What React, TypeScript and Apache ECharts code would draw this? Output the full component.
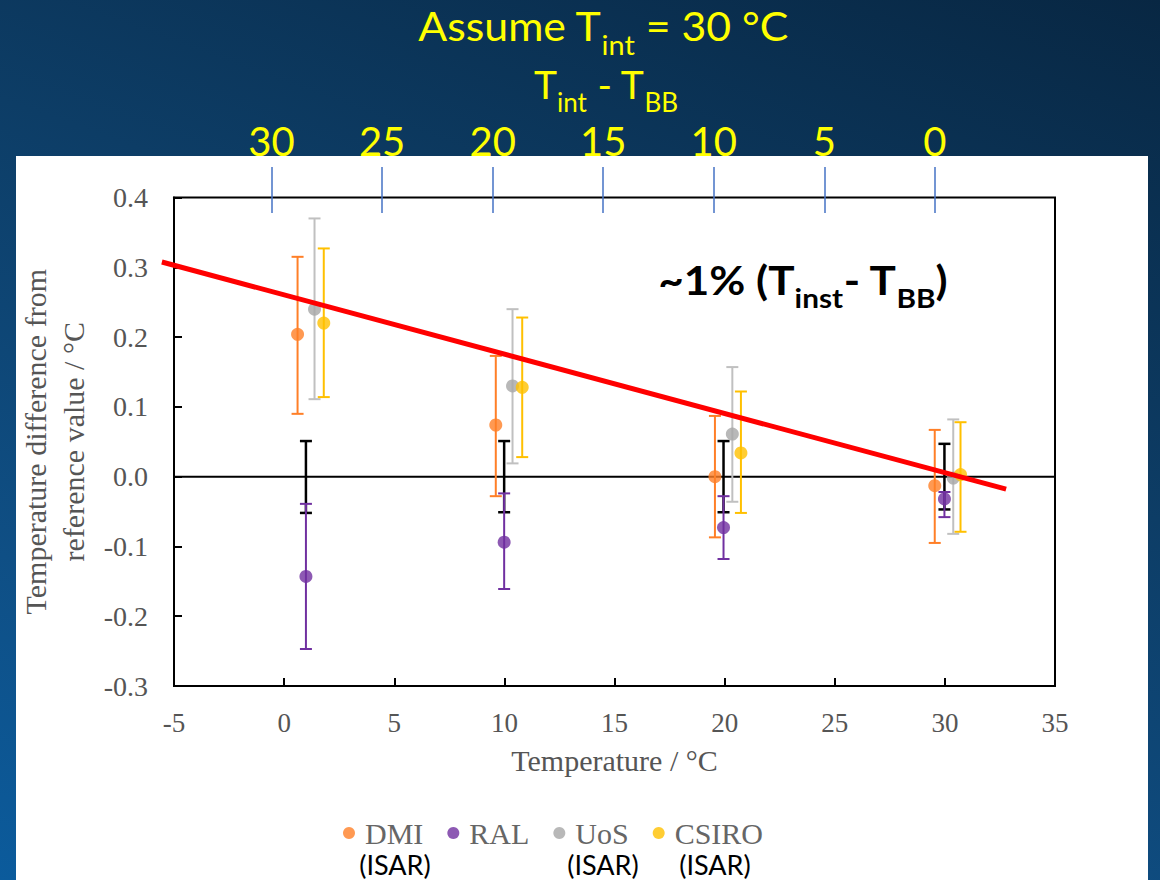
import React, { useEffect, useRef } from 'react';
import * as echarts from 'echarts';

// ---- data ----
const legendNames = ['DMI', 'RAL', 'UoS', 'CSIRO'];
const labColors = ['#FF7F27', '#7030A0', '#A6A6A6', '#FFC000'];
const barColors = ['#FF7F27', '#7030A0', '#C0C0C0', '#FFC000'];

const dmiX = [0.61, 9.61, 19.56, 29.54];
const dmiY = [0.204, 0.074, 0.0, -0.013];
const dmiLow = [0.09, -0.028, -0.087, -0.095];
const dmiHigh = [0.315, 0.173, 0.087, 0.067];

const ralX = [0.99, 9.99, 19.95, 29.98];
const ralY = [-0.143, -0.094, -0.073, -0.032];
const ralLow = [-0.247, -0.161, -0.118, -0.058];
const ralHigh = [-0.039, -0.024, -0.028, -0.022];

const uosX = [1.38, 10.37, 20.35, 30.38];
const uosY = [0.24, 0.13, 0.061, -0.002];
const uosLow = [0.111, 0.019, -0.036, -0.082];
const uosHigh = [0.37, 0.24, 0.157, 0.082];

const csiroX = [1.8, 10.81, 20.74, 30.71];
const csiroY = [0.22, 0.128, 0.034, 0.003];
const csiroLow = [0.114, 0.028, -0.052, -0.079];
const csiroHigh = [0.327, 0.228, 0.122, 0.078];

const refX = [0.99, 9.99, 19.95, 29.98];
const refLow = [-0.052, -0.051, -0.051, -0.047];
const refHigh = [0.051, 0.051, 0.051, 0.047];

const zeroLineX = [-5, 35];
const trendX = [-5.55, 32.78];
const trendY = [0.3076, -0.018];

const topTicks = [0, 5, 10, 15, 20, 25, 30];

const labs = [
  { x: dmiX, y: dmiY, lo: dmiLow, hi: dmiHigh },
  { x: ralX, y: ralY, lo: ralLow, hi: ralHigh },
  { x: uosX, y: uosY, lo: uosLow, hi: uosHigh },
  { x: csiroX, y: csiroY, lo: csiroLow, hi: csiroHigh },
];

const SERIF = '"Liberation Serif", "DejaVu Serif", serif';
const SANS = 'Lato, "Open Sans", sans-serif';

function errRender(color: string, lw: number, cap: number) {
  return (params: any, api: any) => {
    const x = api.value(0);
    const lo = api.value(1);
    const hi = api.value(2);
    const a = api.coord([x, hi]);
    const b = api.coord([x, lo]);
    const style = { stroke: color, lineWidth: lw };
    return {
      type: 'group',
      children: [
        { type: 'line', shape: { x1: a[0], y1: a[1], x2: b[0], y2: b[1] }, style },
        { type: 'line', shape: { x1: a[0] - cap, y1: a[1], x2: a[0] + cap, y2: a[1] }, style },
        { type: 'line', shape: { x1: b[0] - cap, y1: b[1], x2: b[0] + cap, y2: b[1] }, style },
      ],
    };
  };
}

const centered = { align: 'center', verticalAlign: 'middle', textAlign: 'center', textVerticalAlign: 'middle' };

export default function App() {
  const ref = useRef<HTMLDivElement>(null);

  useEffect(() => {
    if (!ref.current) return;
    const chart = echarts.init(ref.current, undefined, { renderer: 'svg' });

    const series: any[] = [];
    series.push({
      type: 'line',
      name: 'zero',
      data: zeroLineX.map((x) => [x, 0]),
      symbol: 'none',
      lineStyle: { color: '#000', width: 2 },
      z: 2,
      silent: true,
    });
    series.push({
      type: 'custom',
      name: 'ref-err',
      data: refX.map((x, i) => [x, refLow[i], refHigh[i]]),
      encode: { x: 0, y: [1, 2] },
      renderItem: errRender('#000', 2.5, 6),
      z: 3,
    });
    labs.forEach((lab, k) => {
      series.push({
        type: 'custom',
        name: legendNames[k] + '-err',
        data: lab.x.map((x, i) => [x, lab.lo[i], lab.hi[i]]),
        encode: { x: 0, y: [1, 2] },
        renderItem: errRender(barColors[k], 2, 6),
        z: 4,
      });
    });
    labs.forEach((lab, k) => {
      series.push({
        type: 'scatter',
        name: legendNames[k],
        data: lab.x.map((x, i) => [x, lab.y[i]]),
        symbol: 'circle',
        symbolSize: 13,
        itemStyle: { color: labColors[k] },
        z: 5,
      });
    });
    series.push({
      type: 'custom',
      name: 'trend',
      clip: false,
      data: [[trendX[0], trendY[0], trendX[1], trendY[1]]],
      encode: { x: [0, 2], y: [1, 3] },
      renderItem: (params: any, api: any) => {
        const a = api.coord([api.value(0), api.value(1)]);
        const b = api.coord([api.value(2), api.value(3)]);
        return {
          type: 'line',
          shape: { x1: a[0], y1: a[1], x2: b[0], y2: b[1] },
          style: { stroke: '#FF0000', lineWidth: 5 },
        };
      },
      z: 10,
    });

    const option: any = {
      animation: false,
      backgroundColor: 'transparent',
      grid: [
        { left: 174, right: 105, top: 197.5, bottom: 194, show: true, borderColor: '#000', borderWidth: 2 },
        { left: 174, right: 105, top: 212, height: 1, show: false },
      ],
      xAxis: [
        {
          type: 'value',
          gridIndex: 0,
          min: -5,
          max: 35,
          interval: 5,
          position: 'bottom',
          axisLine: { show: true, onZero: false, lineStyle: { color: '#000', width: 2 } },
          axisTick: { show: true, inside: true, length: 8, lineStyle: { color: '#000', width: 2 } },
          axisLabel: { fontFamily: SERIF, fontSize: 27, color: '#555', margin: 23 },
          splitLine: { show: false },
          name: 'Temperature / °C',
          nameLocation: 'middle',
          nameGap: 59,
          nameTextStyle: { fontFamily: SERIF, fontSize: 30, color: '#555' },
        },
        {
          type: 'value',
          gridIndex: 1,
          position: 'top',
          inverse: true,
          min: -5.43,
          max: 34.41,
          axisLine: { show: false },
          axisTick: {
            show: true,
            length: 46,
            customValues: topTicks,
            lineStyle: { color: '#4472C4', width: 1.5 },
          },
          axisLabel: {
            customValues: topTicks,
            fontFamily: SANS,
            fontSize: 40,
            color: '#FFFF00',
            margin: 51,
          },
          splitLine: { show: false },
        },
      ],
      yAxis: [
        {
          type: 'value',
          gridIndex: 0,
          min: -0.3,
          max: 0.4,
          interval: 0.1,
          axisLine: { show: true, onZero: false, lineStyle: { color: '#000', width: 2 } },
          axisTick: { show: true, inside: true, length: 8, lineStyle: { color: '#000', width: 2 } },
          axisLabel: {
            fontFamily: SERIF,
            fontSize: 28,
            color: '#555',
            margin: 26,
            formatter: (v: number) => v.toFixed(1),
          },
          splitLine: { show: false },
          name: 'Temperature difference from\nreference value / °C',
          nameLocation: 'middle',
          nameGap: 77,
          nameTextStyle: { fontFamily: SERIF, fontSize: 30, color: '#555', lineHeight: 38 },
        },
        { type: 'value', gridIndex: 1, show: false, min: 0, max: 1 },
      ],
      legend: {
        data: legendNames,
        left: 338,
        top: 813,
        icon: 'circle',
        itemWidth: 12,
        itemHeight: 12,
        itemGap: 24,
        textStyle: { fontFamily: SERIF, fontSize: 30, color: '#666', padding: [0, 0, 0, 5] },
        selectedMode: false,
      },
      graphic: [
        {
          type: 'text',
          x: 603,
          y: 26,
          scaleX: 1.07,
          style: {
            text: '{a|Assume T}{s|int}{a| = 30 °C}',
            ...centered,
            rich: {
              a: { fontFamily: SANS, fontSize: 40, fill: '#FFFF00', lineHeight: 64 },
              s: { fontFamily: SANS, fontSize: 27, fill: '#FFFF00', lineHeight: 27, verticalAlign: 'bottom' },
            },
          },
        },
        {
          type: 'text',
          x: 606,
          y: 84,
          style: {
            text: '{a|T}{s|int}{a| - T}{s|BB}',
            ...centered,
            rich: {
              a: { fontFamily: SANS, fontSize: 39, fill: '#FFFF00', lineHeight: 61 },
              s: { fontFamily: SANS, fontSize: 26, fill: '#FFFF00', lineHeight: 26, verticalAlign: 'bottom' },
            },
          },
        },
        {
          type: 'text',
          x: 803,
          y: 280,
          scaleX: 1.1,
          style: {
            text: '{a|~1% (T}{s|inst}{a|- T}{s|BB}{a|)}',
            ...centered,
            rich: {
              a: { fontFamily: SANS, fontSize: 40, fontWeight: 'bold', fill: '#000', lineHeight: 62 },
              s: { fontFamily: SANS, fontSize: 27, fontWeight: 'bold', fill: '#000', lineHeight: 27, verticalAlign: 'bottom' },
            },
          },
        },
        {
          type: 'text',
          x: 395,
          y: 864,
          style: { text: '(ISAR)', fontFamily: SANS, fontSize: 27, fill: '#000', ...centered },
        },
        {
          type: 'text',
          x: 603,
          y: 864,
          style: { text: '(ISAR)', fontFamily: SANS, fontSize: 27, fill: '#000', ...centered },
        },
        {
          type: 'text',
          x: 715,
          y: 864,
          style: { text: '(ISAR)', fontFamily: SANS, fontSize: 27, fill: '#000', ...centered },
        },
      ],
      series,
    };

    chart.setOption(option);
    return () => {
      chart.dispose();
    };
  }, []);

  return (
    <div
      style={{
        position: 'absolute',
        left: 0,
        top: 0,
        width: 1160,
        height: 880,
        overflow: 'hidden',
        background: 'linear-gradient(200deg, #082743 0%, #0d3d66 40%, #0f4f85 75%, #0b5b9c 100%)',
      }}
    >
      <div style={{ position: 'absolute', left: 16, top: 156, width: 1132, height: 724, background: '#fff' }} />
      <div ref={ref} style={{ position: 'absolute', left: 0, top: 0, width: 1160, height: 880 }} />
    </div>
  );
}
